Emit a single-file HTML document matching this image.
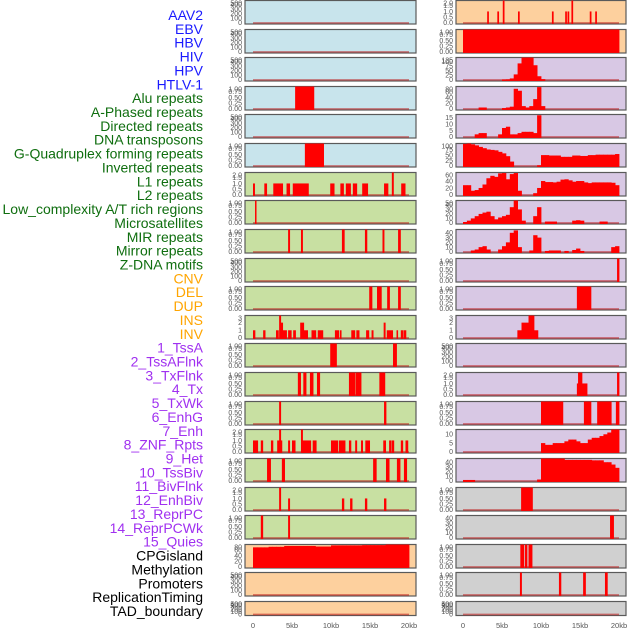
<!DOCTYPE html>
<html><head><meta charset="utf-8">
<style>
html,body{margin:0;padding:0;background:#fff;}
#wrap{position:relative;width:630px;height:630px;overflow:hidden;}
svg{position:absolute;left:0;top:0;}
</style></head>
<body>
<div id="wrap">
<svg id="chart" width="630" height="630" xmlns="http://www.w3.org/2000/svg"></svg>
</div>
<script>
// ---- labels ----
const trackLabels = ["AAV2","EBV","HBV","HIV","HPV","HTLV-1","Alu repeats","A-Phased repeats","Directed repeats","DNA transposons","G-Quadruplex forming repeats","Inverted repeats","L1 repeats","L2 repeats","Low_complexity A/T rich regions","Microsatellites","MIR repeats","Mirror repeats","Z-DNA motifs","CNV","DEL","DUP","INS","INV","1_TssA","2_TssAFlnk","3_TxFlnk","4_Tx","5_TxWk","6_EnhG","7_Enh","8_ZNF_Rpts","9_Het","10_TssBiv","11_BivFlnk","12_EnhBiv","13_ReprPC","14_ReprPCWk","15_Quies","CPGisland","Methylation","Promoters","ReplicationTiming","TAD_boundary"];
const labelGroups = [6,13,5,15,5];
const xTickKb = [0,5,10,15,20];
const xTickLabels = ["0","5kb","10kb","15kb","20kb"];

// ---- left column data: segments [startKb, endKb, value] ----
const L0=[],L1=[],L2=[],L4=[],L9=[],L20=[],L21=[];
const L3=[[5.4,7.8,1]];
const L5=[[6.65,9.05,1]];
const L6=[[0,0.2,1],[1.45,1.75,1],[2.6,3.8,1],[4.3,4.7,1],[5.1,7.1,1],[9.9,10.4,1],[11.2,11.6,1],[11.9,12.5,1],[12.8,13.3,1],[14.0,14.7,1],[16.8,17.3,1],[17.8,18.0,2],[19.0,19.5,1]];
const L7=[[0.26,0.4,1]];
const L8=[[4.5,4.7,1],[6.15,6.35,1],[11.4,11.7,1],[14.35,14.6,1],[16.6,16.8,1],[18.6,18.9,1]];
const L10=[[14.9,15.25,1],[15.9,16.45,1],[17.2,17.5,1],[18.6,18.9,1]];
const L11=[[0,0.25,1],[1.3,1.55,1],[2.95,3.25,1],[3.35,3.55,3],[3.55,3.8,2],[3.8,4.3,1],[4.5,4.9,1],[5.15,5.45,1],[6.05,6.5,2],[6.5,7.0,1],[7.5,8.05,1],[8.3,8.95,1],[10.5,11.0,1],[11.15,11.3,1],[12.6,13.05,1],[13.25,13.6,1],[14.5,14.85,1],[15.2,15.4,1],[16.75,16.95,2],[17.15,17.9,1],[18.4,18.55,1],[18.95,19.2,1],[19.3,19.6,1]];
const L12=[[9.9,10.7,1],[17.95,18.4,1]];
const L13=[[5.75,6.1,1],[6.45,6.8,1],[7.3,7.7,1],[8.2,8.55,1],[12.3,13.1,1],[13.2,13.85,1],[16.2,16.9,1]];
const L14=[[3.35,3.55,1],[16.8,17.05,1]];
const L15=[[0,0.6,1],[1.0,1.25,1],[2.3,2.55,1],[3.1,3.35,1],[3.35,3.55,2],[3.55,3.7,1],[4.5,4.7,1],[5.0,5.4,1],[6.15,6.35,2],[6.35,7.4,1],[7.65,8.1,1],[10.0,10.85,1],[11.0,11.8,1],[12.3,12.55,1],[13.1,13.3,1],[13.85,14.05,1],[14.4,14.95,1],[16.7,17.0,1],[17.45,17.7,1],[17.8,18.05,1],[18.95,19.2,1],[19.55,19.85,1]];
const L16=[[1.8,2.25,1],[3.7,4.05,1],[15.4,15.8,1],[17.05,17.45,1],[18.45,18.85,1],[19.35,19.7,1]];
const L17=[[3.35,3.55,2],[4.5,4.7,1],[11.4,11.65,1],[12.45,12.7,1],[14.35,14.6,1],[16.8,17.05,1]];
const L18=[[1.0,1.25,1],[4.5,4.7,1]];
const L19bins=[70,70,70,70,72,72,72,72,75,75,75,75,75,75,75,75,73,73,73,73,77,77,77,77,77,77,77,77,78,78,78,78,78,78,80,80,80,80,80,80];

// ---- right column data ----
const R12=[],R21=[];
const R0=[[3.1,3.27,1],[4.4,4.57,1],[5.1,5.27,2],[7.05,7.22,1],[11.4,11.57,1],[13.1,13.27,1],[13.4,13.57,1],[13.9,14.07,2],[16.25,16.42,1],[16.95,17.12,1]];
const R1=[[0,20,1]];
const R2bins=[0,0,0,0,0,0,0,0,0,0,2,3,8,30,90,122,125,122,80,20,4,0,0,0,0,0,0,0,0,0,0,0,0,0,0,0,0,0,0,0];
const R3bins=[0,0,0,0,5,5,0,0,0,0,3,5,8,72,65,10,5,10,35,78,10,0,0,0,0,0,0,0,0,0,0,0,0,0,0,0,0,0,0,0];
const R4bins=[0,0,0,2,3,3,0,0,0,2,7,8,2,2,3,4,4,4,3,17,0,0,0,0,0,0,0,0,0,0,0,0,0,0,0,0,0,0,0,0];
const R5bins=[102,104,100,95,88,82,76,74,72,65,58,45,20,0,0,0,0,0,0,3,50,50,48,48,48,42,42,42,48,48,46,46,50,50,52,52,52,52,52,55];
const R6bins=[28,28,12,14,20,30,48,55,52,62,63,45,60,63,12,0,0,0,5,20,40,37,37,36,38,44,45,42,38,40,40,36,34,36,36,36,36,36,35,28];
const R7bins=[2,5,10,15,20,23,25,15,8,12,15,18,35,50,30,5,0,0,15,35,0,3,3,3,0,0,0,0,5,6,5,0,0,0,0,3,3,0,0,0];
const R8bins=[0,0,3,5,10,12,5,0,0,5,12,20,40,45,10,0,0,3,35,30,0,2,3,3,3,0,2,0,4,7,2,0,0,0,0,0,0,0,10,12];
const R9=[[19.75,20.0,1]];
const R10=[[14.6,16.4,1]];
const R11=[[6.97,7.5,1],[7.5,8.4,2],[8.4,9.1,3],[9.1,9.6,1]];
const R13=[[14.6,14.75,1],[14.75,15.25,2],[15.25,15.9,1],[19.75,20.0,2]];
const R14=[[10.0,12.8,1],[15.5,16.4,1],[17.2,19.0,1],[19.6,20.0,1]];
const R15bins=[0,0,0,0,0,0,0,0,0,0,0,0,0,0,0,0,0,0,0,0,5,4,4,5,5,5,6,7,7,6,5,5,7,8,8,9,10,11,13,13];
const R16bins=[2,2,2,0,0,0,0,0,0,0,0,0,0,0,0,0,0,0,0,3,48,48,48,48,48,48,45,45,45,45,45,45,45,44,44,44,40,40,35,28];
const R17=[[7.45,8.9,1]];
const R18=[[18.85,19.3,45]];
const R19=[[7.35,7.8,1],[7.95,8.2,1],[8.4,8.85,1]];
const R20=[[7.3,7.5,1],[12.3,12.55,1],[15.4,15.7,1],[18.2,18.5,1]];

const leftTracks=[L0,L1,L2,L3,L4,L5,L6,L7,L8,L9,L10,L11,L12,L13,L14,L15,L16,L17,L18,L19bins,L20,L21];
const rightTracks=[R0,R1,R2bins,R3bins,R4bins,R5bins,R6bins,R7bins,R8bins,R9,R10,R11,R12,R13,R14,R15bins,R16bins,R17,R18,R19,R20,R21];
const leftYMax=[500,500,500,1,500,1,2,1,1,500,1,3,1,1,1,2,1,2,1,82,500,500];
const rightYMax=[2,1,125,82,18,106,66,51,48,1,1,3,500,2,1,13,49,1,46,1,1,500];
const leftTicks=[[0,100,200,300,400,500],[0,100,200,300,400,500],[0,100,200,300,400,500],[0,.25,.5,.75,1],[0,100,200,300,400,500],[0,.25,.5,.75,1],[0,.5,1,1.5,2],[0,.25,.5,.75,1],[0,.25,.5,.75,1],[0,100,200,300,400,500],[0,.25,.5,.75,1],[0,1,2,3],[0,.25,.5,.75,1],[0,.25,.5,.75,1],[0,.25,.5,.75,1],[0,.5,1,1.5,2],[0,.25,.5,.75,1],[0,.5,1,1.5,2],[0,.25,.5,.75,1],[0,20,40,60,80],[0,100,200,300,400,500],[0,100,200,300,400,500]];
const rightTicks=[[0,.5,1,1.5,2],[0,.25,.5,.75,1],[0,25,50,75,100,125],[0,20,40,60,80],[0,5,10,15],[0,25,50,75,100],[0,20,40,60],[0,10,20,30,40,50],[0,10,20,30,40],[0,.25,.5,.75,1],[0,.25,.5,.75,1],[0,1,2,3],[0,100,200,300,400,500],[0,.5,1,1.5,2],[0,.25,.5,.75,1],[0,5,10],[0,10,20,30,40],[0,.25,.5,.75,1],[0,10,20,30,40],[0,.25,.5,.75,1],[0,.25,.5,.75,1],[0,100,200,300,400,500]];

// ---- layout ----
const NS="http://www.w3.org/2000/svg";
const svg=document.getElementById('chart');
const colLeft={x0:245,x1:416,kb0:253,kbPx:7.8};
const colRight={x0:456,x1:626,kb0:463,kbPx:7.8};
function rowTop(i){return Math.round(i*28.62);}
function rowH(i){return i===21?15:24.5;}
function leftColor(i){return i<6?'#c8e4ec':(i<19?'#c8e0a2':'#fdd09e');}
function rightColor(i){return i<2?'#fdd09e':(i<17?'#d8c8e4':'#d0d0d0');}
function mk(tag,attrs){const e=document.createElementNS(NS,tag);for(const k in attrs)e.setAttribute(k,attrs[k]);return e;}
function fmtTick(v,ticks){const mx=ticks[ticks.length-1];if(mx===1)return v.toFixed(2);if(mx===2)return v.toFixed(1);return String(v);}
function toSegs(track){
  if(track.length===40&&typeof track[0]==='number'){const s=[];track.forEach((v,i)=>{if(v>0)s.push([i*0.5,(i+1)*0.5,v]);});return s;}
  return track;
}

let li=0;const groupColors=['#1a1aff','#0f6e0f','#ffa500','#a030f0','#000000'];
labelGroups.forEach((n,g)=>{for(let k=0;k<n;k++){
  const t=mk('text',{x:203,y:15+li*13.86+5,'text-anchor':'end','font-family':'Liberation Sans, sans-serif','font-size':'14',fill:groupColors[g]});
  t.textContent=trackLabels[li];
  
  
  svg.appendChild(t);li++;}});

function drawColumn(col,tracks,ymaxs,ticksArr,colorFn,side){
  tracks.forEach((tr,i)=>{
    const top=rowTop(i),h=rowH(i),ymax=ymaxs[i],pad=1.6;
    const yOf=v=>top+h-pad-(v/ymax)*(h-pad);
    const xOf=kb=>col.kb0+kb*col.kbPx;
    const g=mk('g',{});
    
    
    const bg=mk('rect',{x:col.x0,y:top+0.5,width:col.x1-col.x0,height:h-1,fill:colorFn(i),stroke:'#5a5a5a','stroke-width':1.2});
    
    
    g.appendChild(bg);
    const base=mk('line',{x1:xOf(0),x2:xOf(20),y1:yOf(0),y2:yOf(0),stroke:'rgba(190,20,20,0.55)','stroke-width':1.6});
    
    
    g.appendChild(base);
    toSegs(tr).forEach(s=>{
      const x=xOf(s[0]),w=Math.max(1.2,xOf(s[1])-x+0.4),y=Math.max(top+0.5,yOf(s[2]));
      const r=mk('rect',{x:x,y:y,width:w,height:yOf(0)-y+1,fill:'#ff0000'});
      
      
      g.appendChild(r);
    });
    const ticks=ticksArr[i];
    ticks.forEach(v=>{
      const t=mk('text',{x:col.x0-3,y:Math.min(top+h,Math.max(top+3,yOf(v)))+2.3,'text-anchor':'end','font-family':'Liberation Sans, sans-serif','font-size':'7',fill:'#555'});
      t.textContent=fmtTick(v,ticks);
      
      
      g.appendChild(t);
    });
    svg.appendChild(g);
  });
  xTickKb.forEach((kb,k)=>{
    const t=mk('text',{x:col.kb0+kb*col.kbPx,y:628,'text-anchor':'middle','font-family':'Liberation Sans, sans-serif','font-size':'7.5',fill:'#555'});
    t.textContent=xTickLabels[k];
    
    
    svg.appendChild(t);
  });
}
drawColumn(colLeft,leftTracks,leftYMax,leftTicks,leftColor,'left');
drawColumn(colRight,rightTracks,rightYMax,rightTicks,rightColor,'right');
</script>
</body></html>
